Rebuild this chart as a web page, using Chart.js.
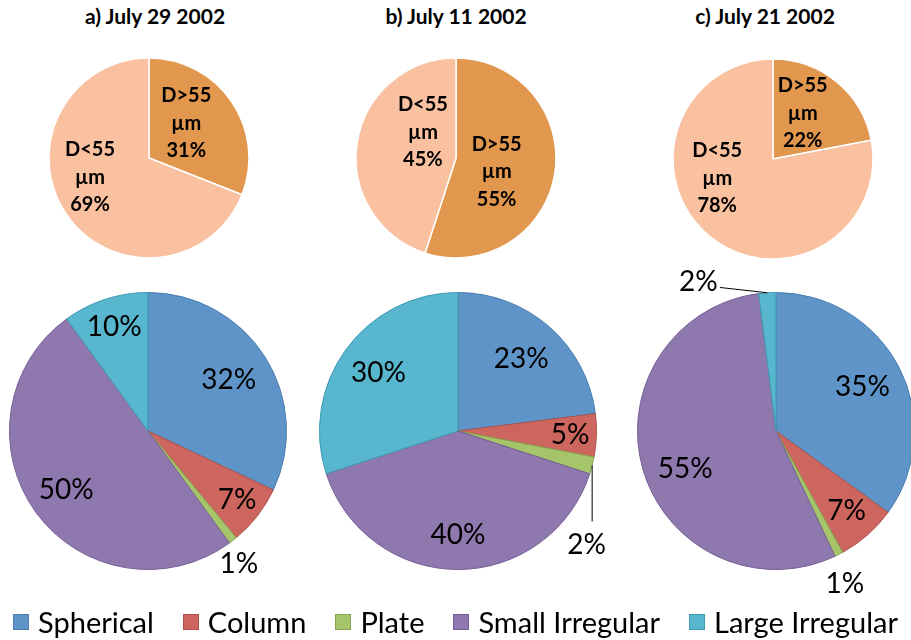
<!DOCTYPE html>
<html>
<head>
<meta charset="utf-8">
<script src="https://cdn.jsdelivr.net/npm/chart.js@4.4.0/dist/chart.umd.min.js"></script>
<style>
  html, body { margin: 0; padding: 0; background: #fff; overflow: hidden; width: 911px; height: 640px; }
  body { position: relative; font-family: Lato, sans-serif; color: #000; }
  canvas { position: absolute; }
  .title { position: absolute; top: 4px; font-weight: bold; font-size: 21px; line-height: 24px; white-space: nowrap; transform: translateX(-50%); }
  #legend { position: absolute; left: 0; top: 605px; width: 911px; display: flex; justify-content: center; align-items: center; gap: 29px; font-size: 29px; line-height: 34px; white-space: nowrap; }
  #legend .item { display: flex; align-items: center; }
  #legend .sw { width: 16px; height: 16px; margin-right: 9px; box-sizing: border-box; border: 1px solid; }
</style>
</head>
<body>
<div id="titles"></div>
<canvas id="topA" width="240" height="240"></canvas>
<canvas id="topB" width="240" height="240"></canvas>
<canvas id="topC" width="240" height="240"></canvas>
<canvas id="botA" width="360" height="360"></canvas>
<canvas id="botB" width="360" height="360"></canvas>
<canvas id="botC" width="360" height="360"></canvas>
<div id="legend"></div>
<script>
// --- data ---
const dates = ['a) July 29 2002', 'b) July 11 2002', 'c) July 21 2002'];
const sizeClasses = ['D>55 µm', 'D<55 µm'];
const sizeJul29 = [31, 69];
const sizeJul11 = [55, 45];
const sizeJul21 = [22, 78];
const habits = ['Spherical', 'Column', 'Plate', 'Small Irregular', 'Large Irregular'];
const habitJul29 = [32, 7, 1, 50, 10];
const habitJul11 = [23, 5, 2, 40, 30];
const habitJul21 = [35, 7, 1, 55, 2];

// --- look ---
const sizeColors = ['#E2974E', '#FAC1A0'];
const habitColors = ['#5E94C8', '#CD665E', '#A6C469', '#8F78AE', '#58B6CF'];
const habitBorders = ['#4C7DB0', '#AE524B', '#87A450', '#755E95', '#4099B3'];

// where each pie sits on the page: [centre x, centre y, radius]
const topPlace = [[149, 158, 100], [456, 158, 100], [773, 158.5, 100]];
const botPlace = [[148.3, 430.7, 138.5], [457.7, 431, 138.5], [776, 430.7, 138.5]];

// label spots: r = fraction of radius along slice middle (a = angle override, deg),
// lead = leader line [dx end, dy end, dx text, dy text] from slice edge
const topLabelPos = [
  [{ r: 0.51, a: -43 }, { r: 0.62, a: 162 }],
  [{ r: 0.43, a: 19 }, { r: 0.42, a: 218 }],
  [{ r: 0.545, a: -57 }, { r: 0.59, a: 161 }]
];
const botLabelPos = [
  [{ r: 0.69 }, { r: 0.815 }, { r: 1.16, a: 55.6 }, { r: 0.73 }, { r: 0.79 }],
  [{ r: 0.69 }, { r: 0.81 }, { lead: [0, 56, -5.6, 79.4] }, { r: 0.75 }, { r: 0.71 }],
  [{ r: 0.70 }, { r: 0.77 }, { r: 1.21, a: 65.7 }, { r: 0.71, a: 157.5 }, { lead: [-47.3, -5.3, -69, -11.3] }]
];

const sliceLabels = {
  id: 'sliceLabels',
  afterDatasetsDraw(chart, args, opts) {
    const ctx = chart.ctx;
    const meta = chart.getDatasetMeta(0);
    const vals = chart.data.datasets[0].data;
    ctx.save();
    ctx.fillStyle = '#000';
    ctx.textAlign = 'center';
    ctx.textBaseline = 'middle';
    ctx.font = opts.font;
    meta.data.forEach((arc, i) => {
      const p = opts.pos[i];
      const mid = (arc.startAngle + arc.endAngle) / 2;
      const R = arc.outerRadius;
      const lines = opts.text(chart.data.labels[i], vals[i]);
      let x, y;
      if (p.lead) {
        const ax = arc.x + Math.cos(mid) * R, ay = arc.y + Math.sin(mid) * R;
        ctx.strokeStyle = '#000';
        ctx.lineWidth = 1;
        ctx.beginPath();
        ctx.moveTo(ax, ay);
        ctx.lineTo(ax + p.lead[0], ay + p.lead[1]);
        ctx.stroke();
        x = ax + p.lead[2];
        y = ay + p.lead[3];
      } else {
        const a = p.a !== undefined ? p.a * Math.PI / 180 : mid;
        x = arc.x + Math.cos(a) * R * p.r;
        y = arc.y + Math.sin(a) * R * p.r;
      }
      lines.forEach((t, k) => ctx.fillText(t, x, y + (k - (lines.length - 1) / 2) * opts.lineHeight));
    });
    ctx.restore();
  }
};

function place(id, pl) {
  const c = document.getElementById(id);
  c.style.left = (pl[0] - c.width / 2) + 'px';
  c.style.top = (pl[1] - c.height / 2) + 'px';
  return c;
}

function makePie(id, pl, labels, values, fill, border, bw, labelOpts) {
  return new Chart(place(id, pl), {
    type: 'pie',
    data: {
      labels: labels,
      datasets: [{ data: values, backgroundColor: fill, borderColor: border, borderWidth: bw, hoverOffset: 0, radius: pl[2] }]
    },
    options: {
      responsive: false,
      animation: false,
      events: [],
      radius: pl[2],
      layout: { padding: 0 },
      plugins: { legend: { display: false }, tooltip: { enabled: false }, sliceLabels: labelOpts }
    },
    plugins: [sliceLabels]
  });
}

// --- Size pies ---
[sizeJul29, sizeJul11, sizeJul21].forEach((vals, i) => {
  makePie(['topA', 'topB', 'topC'][i], topPlace[i], sizeClasses, vals, sizeColors, '#ffffff', 1.5, {
    font: 'bold 20px Lato',
    lineHeight: 27.5,
    pos: topLabelPos[i],
    text: (lab, v) => lab.split(' ').concat([v + '%'])
  });
});

// --- Habit pies ---
[habitJul29, habitJul11, habitJul21].forEach((vals, i) => {
  makePie(['botA', 'botB', 'botC'][i], botPlace[i], habits, vals, habitColors, habitBorders, 1, {
    font: '28px Lato',
    lineHeight: 30,
    pos: botLabelPos[i],
    text: (lab, v) => [v + '%']
  });
});

// --- titles ---
const titleX = [155, 456, 765];
dates.forEach((t, i) => {
  const d = document.createElement('div');
  d.className = 'title';
  d.style.left = titleX[i] + 'px';
  d.textContent = t;
  document.getElementById('titles').appendChild(d);
});

// --- legend ---
const leg = document.getElementById('legend');
habits.forEach((h, i) => {
  const it = document.createElement('div');
  it.className = 'item';
  it.innerHTML = '<span class="sw" style="background:' + habitColors[i] + ';border-color:' + habitBorders[i] + '"></span><span>' + h + '</span>';
  leg.appendChild(it);
});
</script>
</body>
</html>
